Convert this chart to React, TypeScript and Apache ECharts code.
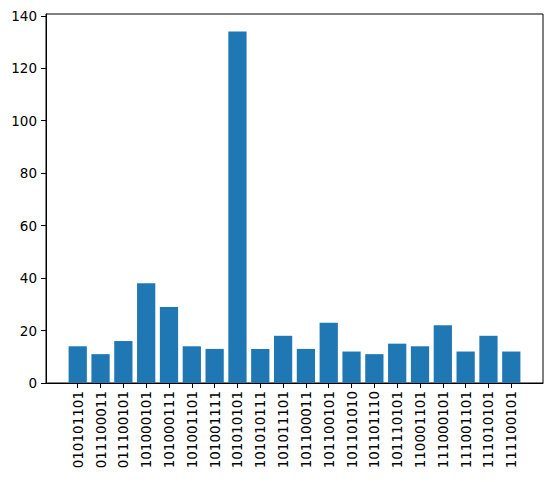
import React, { useEffect, useRef } from "react";
import * as echarts from "echarts";

const categories = [
  "010101101", "011100011", "011100101", "101000101", "101000111",
  "101001101", "101001111", "101010101", "101010111", "101011101",
  "101100011", "101100101", "101101010", "101101110", "101110101",
  "110001101", "111000101", "111001101", "111010101", "111100101",
];
const values = [14, 11, 16, 38, 29, 14, 13, 134, 13, 18, 13, 23, 12, 11, 15, 14, 22, 12, 18, 12];
const yTicks = [0, 20, 40, 60, 80, 100, 120, 140];

export default function App() {
  const ref = useRef<HTMLDivElement>(null);
  useEffect(() => {
    if (!ref.current) return;
    const chart = echarts.init(ref.current, null, { renderer: "svg" });
    const idx = categories.map((_, i) => i);
    const font = "DejaVu Sans";
    chart.setOption({
      animation: false,
      backgroundColor: "#fff",
      grid: {
        left: 46, right: 9, top: 14, bottom: 99,
        containLabel: false,
        outerBoundsMode: "none",
        show: true, borderColor: "#000", borderWidth: 1,
      },
      xAxis: {
        type: "value",
        min: -1.39,
        max: 20.39,
        splitLine: { show: false },
        axisLine: { show: true, onZero: false, lineStyle: { color: "#000" } },
        axisTick: { show: true, inside: false, length: 5, lineStyle: { color: "#000" }, customValues: idx },
        axisLabel: {
          customValues: idx,
          rotate: 90,
          margin: 8,
          color: "#000",
          fontFamily: font,
          fontSize: 13.5,
          formatter: (v: number) => categories[Math.round(v)] ?? "",
        },
      },
      yAxis: {
        type: "value",
        min: 0,
        max: 140.7,
        splitLine: { show: false },
        axisLine: { show: true, onZero: false, lineStyle: { color: "#000" } },
        axisTick: { show: true, inside: false, length: 5, lineStyle: { color: "#000" }, customValues: yTicks },
        axisLabel: {
          customValues: yTicks,
          margin: 9,
          color: "#000",
          fontFamily: font,
          fontSize: 13.5,
        },
      },
      series: [
        {
          type: "bar",
          data: values.map((v, i) => [i, v]),
          barWidth: "80%",
          itemStyle: { color: "#1f77b4" },
        },
      ],
    });
    return () => chart.dispose();
  }, []);
  return (
    <div
      ref={ref}
      style={{ position: "absolute", left: 0, top: 0, width: 552, height: 482 }}
    />
  );
}
